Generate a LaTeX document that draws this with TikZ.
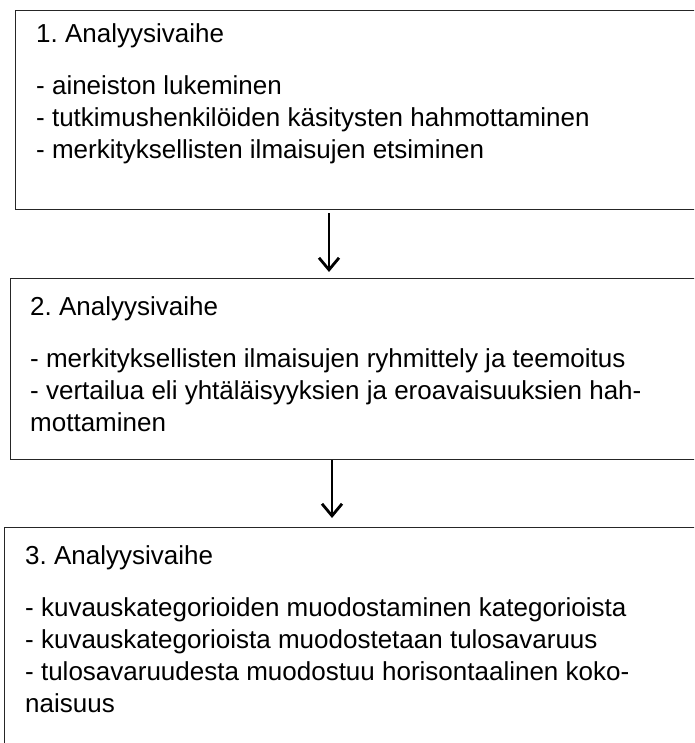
\documentclass[tikz,border=0pt]{standalone}
\usepackage{fontspec}
\setmainfont{Liberation Sans}
\usetikzlibrary{positioning,arrows.meta}

\begin{document}
\frenchspacing
\begin{tikzpicture}[x=1pt,y=1pt,
  font=\fontsize{26}{32}\selectfont,
  stagebox/.style={draw=black!85,line width=1.1pt,anchor=north west,minimum width=720pt,inner sep=0pt},
  stagetext/.style={anchor=north west,align=left,inner sep=0pt},
  arr/.style={-{Straight Barb[length=12pt,width=20pt]},line width=2.8pt}
]
\clip (0,0) rectangle (694,-743);
% the three stages
\node[stagebox,minimum height=199pt] (b1) at (15,-10) {};
\node[stagebox,minimum height=181pt] (b2) at (10,-278) {};
\node[stagebox,minimum height=240pt] (b3) at (4,-527) {};

\node[stagetext] (t1) at ([xshift=21pt,yshift=-13pt]b1.north west)
  {1. Analyysivaihe\\[20pt]
   - aineiston lukeminen\\
   - tutkimushenkilöiden käsitysten hahmottaminen\\
   - merkityksellisten ilmaisujen etsiminen};
\node[stagetext] (t2) at ([xshift=20pt,yshift=-18pt]b2.north west)
  {2. Analyysivaihe\\[20pt]
   - merkityksellisten ilmaisujen ryhmittely ja teemoitus\\
   - vertailua eli yhtäläisyyksien ja eroavaisuuksien hah-\\
   mottaminen};
\node[stagetext] (t3) at ([xshift=21pt,yshift=-18pt]b3.north west)
  {3. Analyysivaihe\\[20pt]
   - kuvauskategorioiden muodostaminen kategorioista\\
   - kuvauskategorioista muodostetaan tulosavaruus\\
   - tulosavaruudesta muodostuu horisontaalinen koko-\\
   naisuus};

% arrows between stages
\draw[arr] ([xshift=314pt,yshift=-3pt]b1.south west) -- ([xshift=319pt,yshift=6pt]b2.north west);
\draw[arr] ([xshift=322pt]b2.south west) -- ([xshift=328pt,yshift=9pt]b3.north west);
\end{tikzpicture}
\end{document}
